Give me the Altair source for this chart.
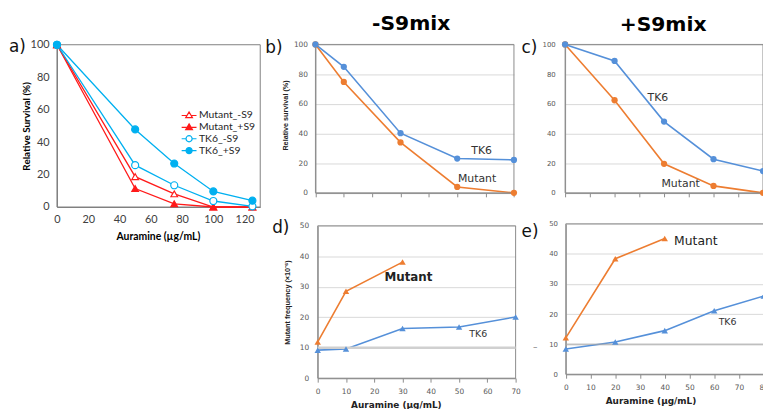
import altair as alt
import pandas as pd

# ---------------- data ----------------
a_conc = [0, 50, 75, 100, 125]
a_series = ["Mutant_-S9", "Mutant_+S9", "TK6_-S9", "TK6_+S9"]
a_mutant_minus = [100, 18.7, 8.1, 0, 0]
a_mutant_plus = [100, 11.4, 2.0, 0, 0]
a_tk6_minus = [100, 25.8, 13.4, 3.7, 0.4]
a_tk6_plus = [100, 47.8, 26.8, 9.6, 3.9]

b_conc = [0, 10, 30, 50, 70]
b_tk6 = [100, 84.9, 40.2, 23.1, 22.2]
b_mutant = [100, 74.7, 34.0, 4.0, 0]

c_conc = [0, 20, 40, 60, 80]
c_tk6 = [100, 88.9, 48.0, 22.7, 14.7]
c_mutant = [100, 62.4, 19.6, 4.7, 0]

d_conc_tk6 = [0, 10, 30, 50, 70]
d_tk6 = [9.2, 9.6, 16.3, 16.8, 20.1]
d_conc_mutant = [0, 10, 30]
d_mutant = [11.9, 28.5, 38.1]

e_conc_tk6 = [0, 20, 40, 60, 80]
e_tk6 = [8.4, 10.7, 14.5, 21.1, 26.0]
e_conc_mutant = [0, 20, 40]
e_mutant = [12.1, 38.4, 45.1]

cells = ["TK6", "Mutant"]

# ---------------- styling ----------------
RED = "#ff1a1a"
CYAN = "#00b0f0"
BLUE = "#5590d9"
ORANGE = "#ed7d31"
GRID = "#d9d9d9"
FRAME = "#8c8c8c"
LAB = "#595959"
W, H = 763, 401

TRI = "M-1.5,0.1H-0.42M0.42,0.1H1.5M0,-0.6L0.68,0.55L-0.68,0.55Z"
CIR = "M-1.5,0H-0.62M0.62,0H1.5M0.62,0A0.62,0.62,0,1,1,-0.62,0A0.62,0.62,0,1,1,0.62,0Z"

one = pd.DataFrame({"k": [0]})


def long_a():
    rows = []
    for name, vals in zip(a_series, [a_mutant_minus, a_mutant_plus, a_tk6_minus, a_tk6_plus]):
        for c, v in zip(a_conc, vals):
            rows.append({"conc": c, "value": v, "series": name, "cell": name.split("_")[0]})
    return pd.DataFrame(rows)


def long_cells(conc_tk6, tk6, conc_mut, mut):
    rows = []
    for c, v in zip(conc_mut, mut):
        rows.append({"conc": c, "value": v, "cell": "Mutant"})
    for c, v in zip(conc_tk6, tk6):
        rows.append({"conc": c, "value": v, "cell": "TK6"})
    return pd.DataFrame(rows)


def sc(domain, rng):
    return alt.Scale(domain=domain, range=rng, nice=False, zero=False)


def box(xs, ys, xd, yd, color):
    return alt.Chart(one).mark_rect(fill="transparent", stroke=color, strokeWidth=1).encode(
        x=alt.XDatum(xd[0], scale=xs, axis=None),
        x2=alt.X2Datum(xd[1]),
        y=alt.YDatum(yd[0], scale=ys, axis=None),
        y2=alt.Y2Datum(yd[1]),
    )


def note(xs, ys, xv, yv, txt, size, weight="normal", color="#333333"):
    return alt.Chart(one).mark_text(
        text=txt, font="DejaVu Sans", fontSize=size, fontWeight=weight, color=color,
        align="center", baseline="middle",
    ).encode(
        x=alt.XDatum(xv, scale=xs, axis=None),
        y=alt.YDatum(yv, scale=ys, axis=None),
    )


cell_scale = alt.Scale(domain=cells, range=[BLUE, ORANGE])
units = []

# ---------------- panel a ----------------
df_a = long_a()
xs_a = sc([0, 130], [49.5, 254.9])
ys_a = sc([0, 100], [199, 35])
stroke_a = alt.Scale(domain=a_series, range=[RED, RED, CYAN, CYAN])
fill_a = alt.Scale(domain=a_series, range=["white", RED, "white", CYAN])
shape_a = alt.Scale(domain=a_series, range=[TRI, TRI, CIR, CIR])

ax_a_x = alt.Axis(orient="bottom", offset=199 - H, values=list(range(0, 121, 20)), ticks=False,
                  tickSize=0, grid=False, domainColor="#808080", labelFont="Lato", labelFontSize=11,
                  labelColor="#404040", labelPadding=7, labelFlush=False, labelOverlap=False,
                  title="Auramine (µg/mL)", titleFont="Lato", titleFontSize=10.5, titleFontWeight="bold",
                  titleColor="#000000", titleX=151.5, titleY=33, titleBaseline="alphabetic", titleAlign="center")
ax_a_y = alt.Axis(orient="left", offset=-49.5, values=list(range(0, 101, 20)), ticks=False, tickSize=0,
                  grid=False, domainColor="#808080", labelFont="Lato", labelFontSize=11, labelColor="#404040",
                  labelPadding=8, labelOverlap=False, title="Relative Survival (%)", titleFont="Lato",
                  titleFontSize=10, titleFontWeight="bold", titleColor="#000000", titleX=-31, titleY=117,
                  titleAngle=270, titleAlign="center", titleBaseline="middle")

LEG = alt.Legend(title=None, orient="none", legendX=177, legendY=100, labelFont="Lato", labelFontSize=10.5,
                 labelColor="#262626", symbolSize=100, symbolStrokeWidth=1.2, rowPadding=0, labelOffset=4,
                 padding=0)

base_a = alt.Chart(df_a)
units.append(box(xs_a, ys_a, [0, 130], [0, 100], "#808080"))
units.append(base_a.mark_line(strokeWidth=1.3).encode(
    x=alt.X("conc:Q", scale=xs_a, axis=ax_a_x),
    y=alt.Y("value:Q", scale=ys_a, axis=ax_a_y),
    stroke=alt.Stroke("series:N", scale=stroke_a, legend=None),
))
units.append(base_a.transform_filter(alt.datum.cell == "Mutant").mark_point(
    shape="triangle-up", size=45, strokeWidth=1.2, opacity=1).encode(
    x=alt.X("conc:Q", scale=xs_a, axis=None),
    y=alt.Y("value:Q", scale=ys_a, axis=None),
    stroke=alt.Stroke("series:N", scale=stroke_a, legend=None),
    fill=alt.Fill("series:N", scale=fill_a, legend=None),
))
units.append(base_a.transform_filter(alt.datum.cell == "TK6").mark_point(
    shape="circle", size=50, strokeWidth=1.2, opacity=1).encode(
    x=alt.X("conc:Q", scale=xs_a, axis=None),
    y=alt.Y("value:Q", scale=ys_a, axis=None),
    stroke=alt.Stroke("series:N", scale=stroke_a, legend=None),
    fill=alt.Fill("series:N", scale=fill_a, legend=None),
))
# legend-only layer (no rows drawn); its symbols come from the explicit scale domains
units.append(base_a.transform_filter("false").mark_point(opacity=1).encode(
    x=alt.X("conc:Q", scale=xs_a, axis=None),
    y=alt.Y("value:Q", scale=ys_a, axis=None),
    stroke=alt.Stroke("series:N", scale=stroke_a, legend=LEG),
    fill=alt.Fill("series:N", scale=fill_a, legend=LEG),
    shape=alt.Shape("series:N", scale=shape_a, legend=LEG),
))


# ---------------- panels b-e ----------------
def cell_panel(df, xs, ys, xvals, yvals, x_off, y_off, ylab_size, ylab_pad, show_xlabels,
               ytitle=None, ytitle_x=0, ytitle_y=0, xtitle=None, xtitle_x=0, xtitle_y=0,
               marker="circle", xd=None, yd=None, extra=None):
    xaxis_kw = dict(orient="bottom", offset=x_off - H, values=xvals, ticks=True, tickSize=4,
                    tickColor=FRAME, domainColor=FRAME, grid=False, labels=show_xlabels,
                    labelFont="DejaVu Sans", labelFontSize=7.5, labelColor=LAB, labelPadding=5,
                    labelFlush=False, labelOverlap=False)
    if xtitle:
        xaxis_kw.update(title=xtitle, titleFont="DejaVu Sans", titleFontSize=9, titleFontWeight="bold",
                        titleColor="#222222", titleX=xtitle_x, titleY=xtitle_y, titleBaseline="alphabetic",
                        titleAlign="center")
    else:
        xaxis_kw.update(title=None)
    yaxis_kw = dict(orient="left", offset=-y_off, values=yvals, ticks=False, tickSize=0, grid=True,
                    gridColor=GRID, gridWidth=1, domainColor=FRAME, labelFont="DejaVu Sans",
                    labelFontSize=ylab_size, labelColor=LAB, labelPadding=ylab_pad, labelOverlap=False)
    if ytitle:
        yaxis_kw.update(title=ytitle, titleFont="Liberation Sans", titleFontSize=7.3,
                        titleFontWeight="bold", titleColor="#222222", titleX=ytitle_x, titleY=ytitle_y,
                        titleAngle=270, titleAlign="center", titleBaseline="middle")
    else:
        yaxis_kw.update(title=None)
    base = alt.Chart(df)
    out = [base.mark_line(strokeWidth=1.6).encode(
        x=alt.X("conc:Q", scale=xs, axis=alt.Axis(**xaxis_kw)),
        y=alt.Y("value:Q", scale=ys, axis=alt.Axis(**yaxis_kw)),
        color=alt.Color("cell:N", scale=cell_scale, legend=None),
    ), box(xs, ys, xd, yd, FRAME)]
    if extra is not None:
        out.append(extra)
    if marker == "circle":
        pts = base.mark_circle(size=40, opacity=1)
    else:
        pts = base.mark_point(shape="triangle-up", filled=True, size=42, opacity=1)
    out.append(pts.encode(
        x=alt.X("conc:Q", scale=xs, axis=None),
        y=alt.Y("value:Q", scale=ys, axis=None),
        color=alt.Color("cell:N", scale=cell_scale, legend=None),
    ))
    return out


# panel b
df_b = long_cells(b_conc, b_tk6, b_conc, b_mutant)
xs_b = sc([0, 70], [310.7, 511.3])
ys_b = sc([0, 100], [184.7, 34.7])
units += cell_panel(df_b, xs_b, ys_b, list(range(0, 71, 10)), list(range(0, 101, 20)), 184.7, 310.7, 7.5, 8,
                    False, ytitle="Relative survival (%)", ytitle_x=-30.4, ytitle_y=106, xd=[0, 70], yd=[0, 100])
units += [note(xs_b, ys_b, 58.6, 28.1, "TK6", 11), note(xs_b, ys_b, 57, 9.1, "Mutant", 11)]

# panel c
df_c = long_cells(c_conc, c_tk6, c_conc, c_mutant)
xs_c = sc([0, 80], [563, 763])
ys_c = sc([0, 100], [184.7, 34.7])
units += cell_panel(df_c, xs_c, ys_c, list(range(0, 81, 10)), list(range(0, 101, 20)), 184.7, 563, 7, 10,
                    False, xd=[0, 80], yd=[0, 100])
units += [note(xs_c, ys_c, 37.5, 64, "TK6", 11), note(xs_c, ys_c, 46.7, 6, "Mutant", 11)]

# panel d
df_d = long_cells(d_conc_tk6, d_tk6, d_conc_mutant, d_mutant)
xs_d = sc([0, 70], [313, 513])
ys_d = sc([0, 50], [372, 218])
thick_d = alt.Chart(one).mark_rule(color="#d0d0d0", strokeWidth=2.5).encode(
    x=alt.XDatum(0, scale=xs_d, axis=None), x2=alt.X2Datum(70),
    y=alt.YDatum(10, scale=ys_d, axis=None))
units += cell_panel(df_d, xs_d, ys_d, list(range(0, 71, 10)), list(range(0, 51, 10)), 372, 313, 7.5, 9,
                    True, ytitle="Mutant frequency (×10⁻⁶)", ytitle_x=-30.3, ytitle_y=295,
                    xtitle="Auramine (µg/mL)", xtitle_x=392, xtitle_y=30, marker="triangle",
                    xd=[0, 70], yd=[0, 50], extra=thick_d)
units += [note(xs_d, ys_d, 32.1, 33.1, "Mutant", 12, "bold", "#222222"),
          note(xs_d, ys_d, 56.8, 14.6, "TK6", 9.5)]

# panel e
df_e = long_cells(e_conc_tk6, e_tk6, e_conc_mutant, e_mutant)
xs_e = sc([0, 80], [563.7, 763.7])
ys_e = sc([0, 50], [368, 216])
rule_e = alt.Chart(one).mark_rule(color="#a6a6a6", strokeWidth=1).encode(
    x=alt.XDatum(0, scale=xs_e, axis=None), x2=alt.X2Datum(80),
    y=alt.YDatum(10, scale=ys_e, axis=None))
units += cell_panel(df_e, xs_e, ys_e, list(range(0, 81, 10)), list(range(0, 51, 10)), 368, 563.7, 7, 8.4,
                    True, xtitle="Auramine (µg/mL)", xtitle_x=649.3, xtitle_y=29.7, marker="triangle",
                    xd=[0, 80], yd=[0, 50], extra=rule_e)
units += [note(xs_e, ys_e, 52.6, 44.4, "Mutant", 12.5, "normal", "#222222"),
          note(xs_e, ys_e, 65.4, 17.5, "TK6", 9.5)]


# ---------------- headers / panel letters ----------------
def txt(t, x, y, size, weight="normal", align="left", color="#111111"):
    return alt.Chart(one).mark_text(text=t, x=x, y=y, font="DejaVu Sans", fontSize=size, fontWeight=weight,
                                    align=align, baseline="alphabetic", color=color)


units += [
    txt("-S9mix", 407.5, 20.3, 20.5, "bold", "center", "#000000"),
    txt("+S9mix", 662, 21.3, 20.5, "bold", "center", "#000000"),
    txt("a)", 1, 42, 17),
    txt("b)", 260, 43, 17),
    txt("c)", 519, 43, 17),
    txt("d)", 267, 225, 17),
    txt("e)", 519, 229, 17),
    txt("–", 532.7, 344, 9, "normal", "center", "#777777"),
]

chart = alt.layer(*units).resolve_scale(
    x="independent", y="independent", stroke="independent", fill="independent", shape="independent"
).properties(
    width=W, height=H, padding=0, autosize=alt.AutoSizeParams(type="none")
).configure_view(stroke=None)

chart.save("out.html", embed_options={"renderer": "svg", "actions": False})
